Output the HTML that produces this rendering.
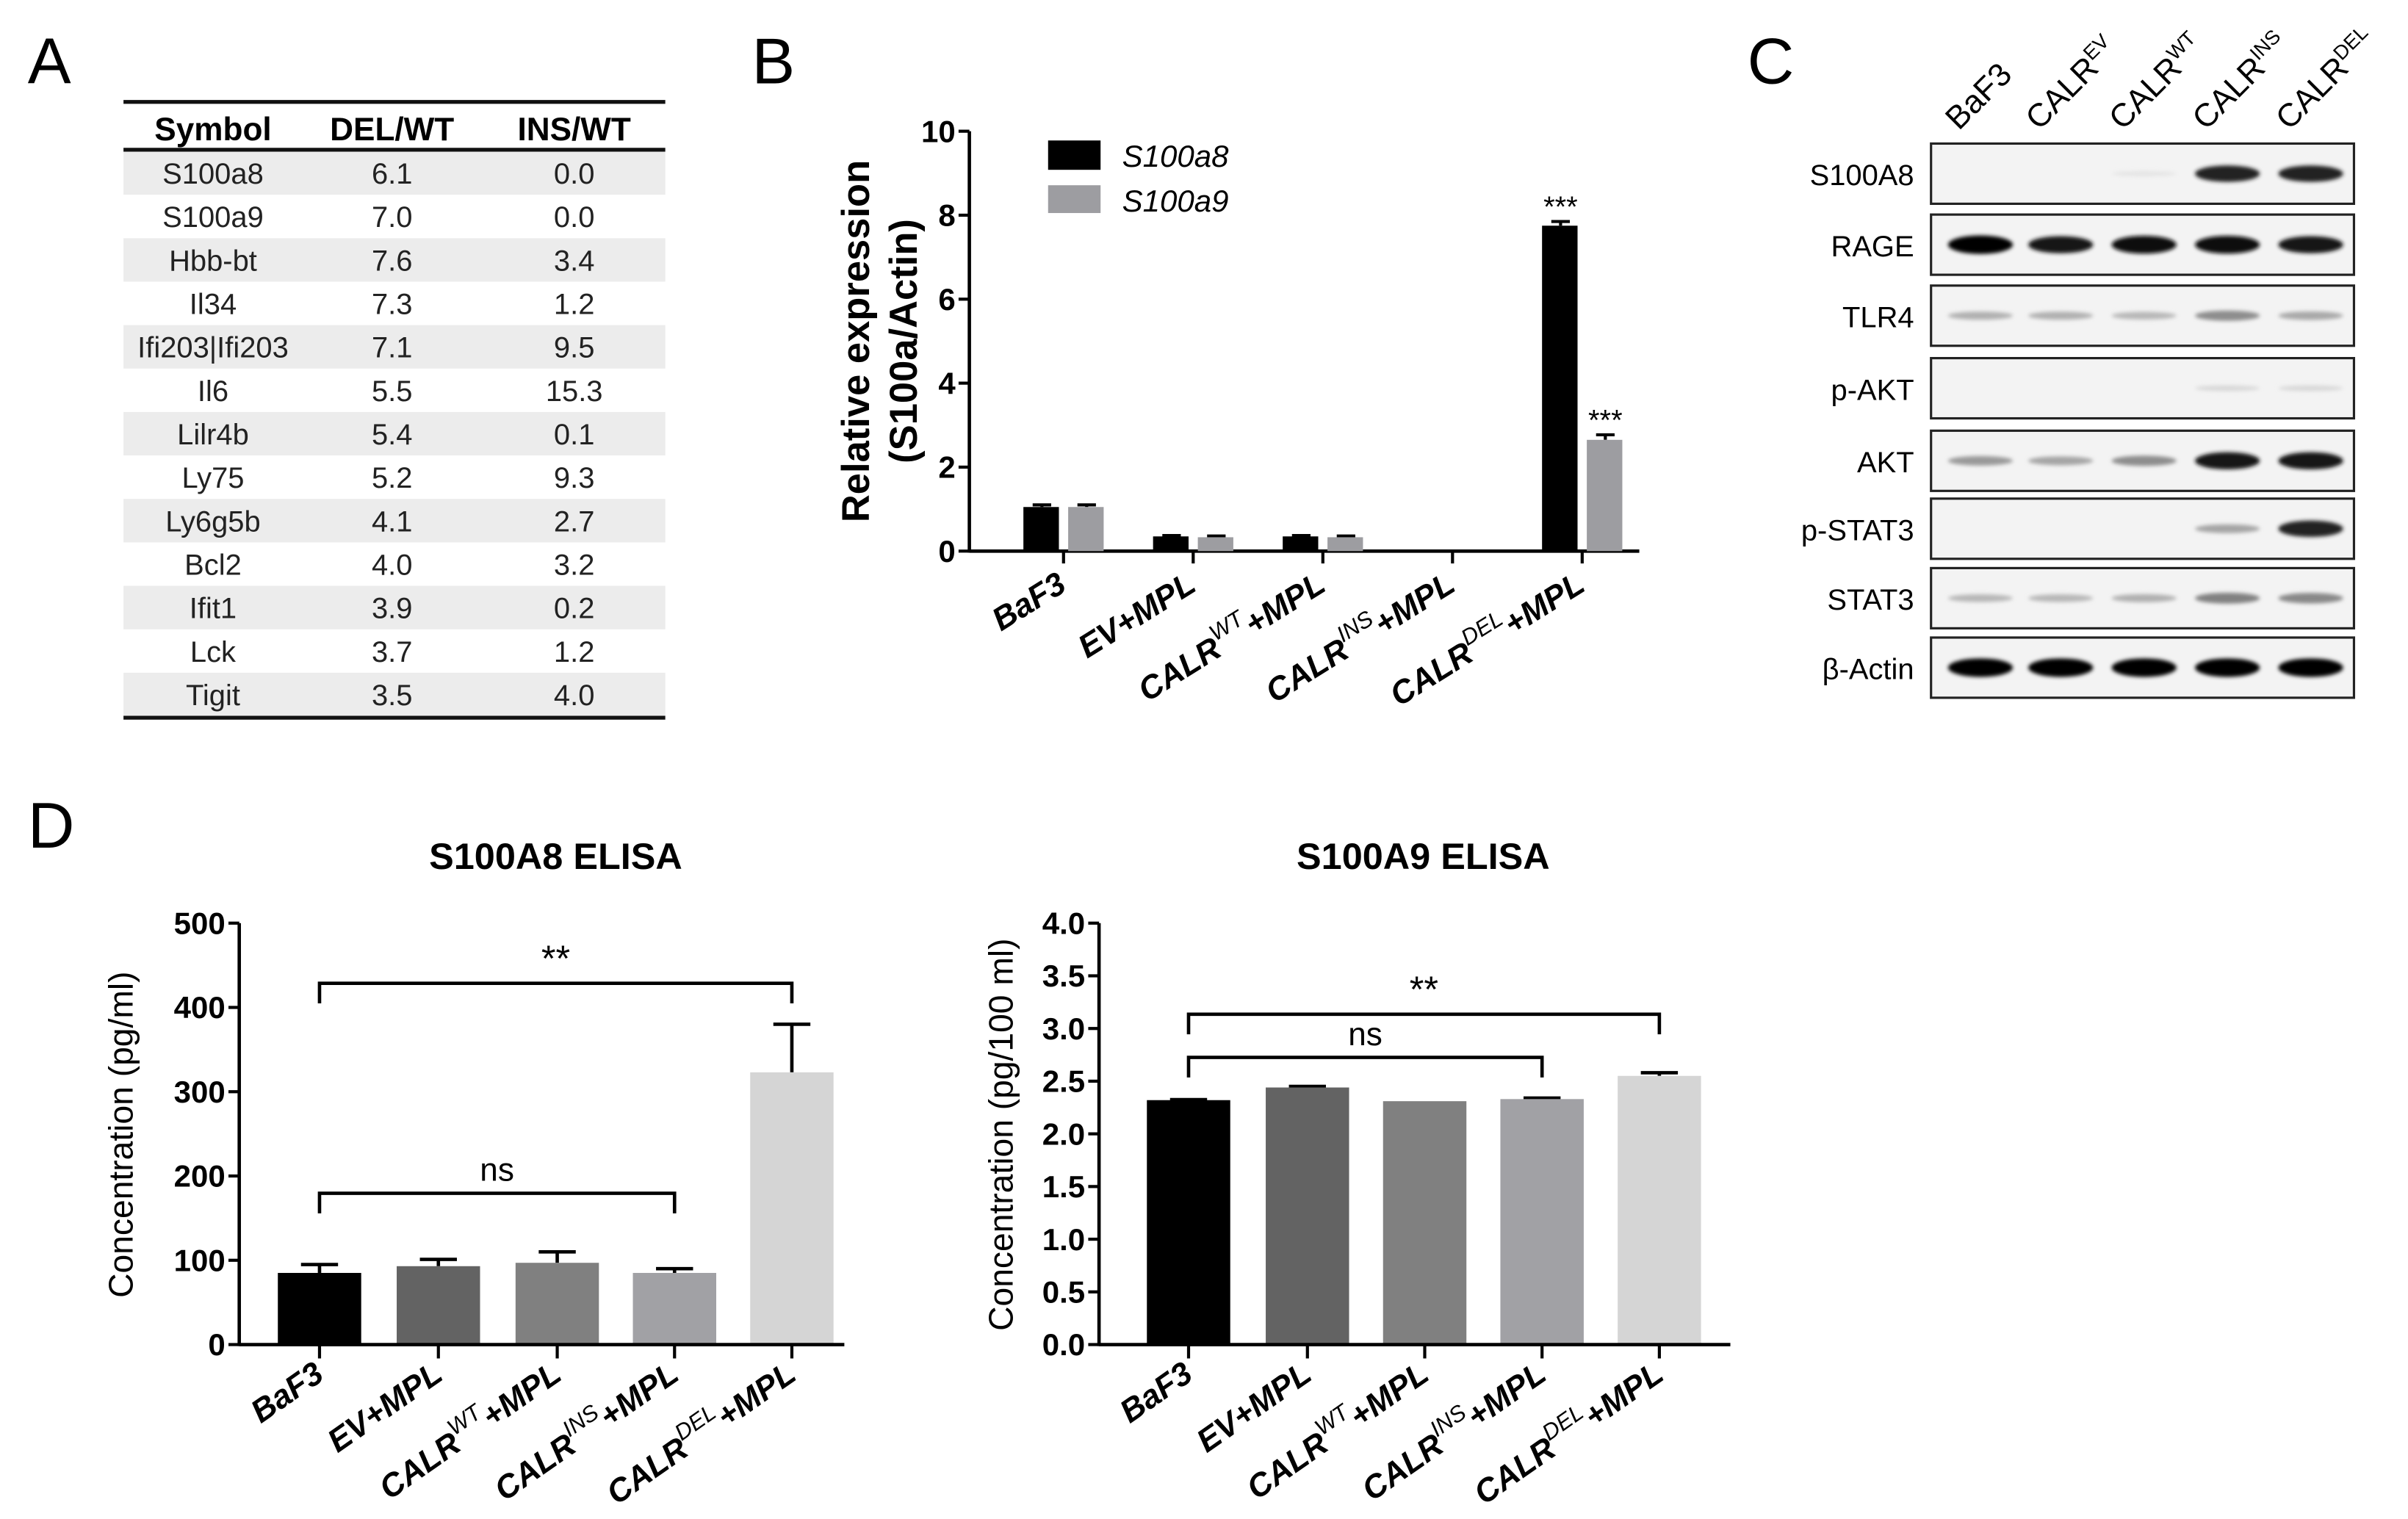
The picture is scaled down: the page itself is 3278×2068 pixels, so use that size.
<!DOCTYPE html>
<html><head><meta charset="utf-8">
<style>
html,body{margin:0;padding:0;background:#fff;}
svg{display:block;}
text{font-family:"Liberation Sans",sans-serif;}
</style></head>
<body>
<svg id="fig" width="3278" height="2068" viewBox="0 0 1560 984" preserveAspectRatio="none" xmlns="http://www.w3.org/2000/svg">
<defs><filter id="blur" x="-20%" y="-100%" width="140%" height="300%"><feGaussianBlur stdDeviation="1.3"/></filter></defs>
<g id="root"></g>
</svg>
<script>
// ===== Panel A table data =====
const tblSymbols = ["S100a8","S100a9","Hbb-bt","Il34","Ifi203|Ifi203","Il6","Lilr4b","Ly75","Ly6g5b","Bcl2","Ifit1","Lck","Tigit"];
const tblDel = ["6.1","7.0","7.6","7.3","7.1","5.5","5.4","5.2","4.1","4.0","3.9","3.7","3.5"];
const tblIns = ["0.0","0.0","3.4","1.2","9.5","15.3","0.1","9.3","2.7","3.2","0.2","1.2","4.0"];
// ===== Panel B data =====
const bCats = [["BaF3",""],["EV+MPL",""],["CALR","WT"],["CALR","INS"],["CALR","DEL"]];
const bS100a8 = [1.05,0.35,0.35,0,7.75];
const bS100a8Err = [0.05,0.02,0.02,0,0.1];
const bS100a9 = [1.05,0.33,0.33,0,2.65];
const bS100a9Err = [0.05,0.03,0.03,0,0.12];
const bTicks = [0,2,4,6,8,10];
// ===== Panel C blot =====
const cLanes = [["BaF3",""],["CALR","EV"],["CALR","WT"],["CALR","INS"],["CALR","DEL"]];
const cRows = ["S100A8","RAGE","TLR4","p-AKT","AKT","p-STAT3","STAT3","β-Actin"];
const cIntensity = [[0,0,0.03,0.85,0.85],[1,0.9,0.95,0.95,0.9],[0.25,0.25,0.22,0.4,0.28],[0,0,0,0.08,0.08],[0.35,0.3,0.4,0.9,0.9],[0,0,0,0.3,0.85],[0.22,0.22,0.25,0.45,0.42],[1,1,1,1,1]];
// ===== Panel D data =====
const dCats = [["BaF3",""],["EV+MPL",""],["CALR","WT"],["CALR","INS"],["CALR","DEL"]];
const d8Vals = [85,93,97,85,323];
const d8Err = [10,8,13,5,57];
const d8Ticks = [0,100,200,300,400,500];
const d9Vals = [2.32,2.44,2.31,2.33,2.55];
const d9Err = [0.005,0.01,0,0.01,0.03];
const d9Ticks = [0,0.5,1,1.5,2,2.5,3,3.5,4];
const dColors = ["#000000","#636363","#808080","#a1a1a5","#d5d5d5"];

const NS="http://www.w3.org/2000/svg";
const root=document.getElementById('root');
function el(tag,attrs,parent){const e=document.createElementNS(NS,tag);for(const k in attrs)e.setAttribute(k,attrs[k]);(parent||root).appendChild(e);return e;}
function txt(s,attrs,parent){const t=el('text',attrs,parent);t.textContent=s;return t;}
function lbl(tx,ty,rot,main,sup,size,style,parent){
  const t=el('text',{x:tx,y:ty,'text-anchor':'end','font-size':size,'font-weight':'bold','font-style':style,transform:`rotate(${rot} ${tx} ${ty})`},parent);
  const a=document.createElementNS(NS,'tspan');a.textContent=main;t.appendChild(a);
  if(sup){const s=document.createElementNS(NS,'tspan');s.setAttribute('dy',-10);s.setAttribute('font-size',size*0.7);s.setAttribute('font-weight','normal');s.textContent=sup;t.appendChild(s);
    const p=document.createElementNS(NS,'tspan');p.setAttribute('dy',10);p.textContent='+MPL';t.appendChild(p);}
  return t;}

// ---------- Panel letters ----------
[["A",18,54],["B",487,54],["C",1132,54],["D",18,549]].forEach(p=>{
  const t=txt(p[0],{x:p[1],y:p[2],'font-size':42});
  
  
});

// ---------- Panel A ----------
const gA=el('g',{});


const tx0=80,tx1=431,rowTop=98,rowH=28.15,cols=[138,254,372];
tblSymbols.forEach((s,i)=>{
  const y=rowTop+i*rowH;
  if(i%2===0){el('rect',{x:tx0,y:y,width:tx1-tx0,height:rowH,fill:'#ececec'},gA);}
  const row=el('g',{},gA);
  
  
  [s,tblDel[i],tblIns[i]].forEach((v,j)=>txt(v,{x:cols[j],y:y+21,'text-anchor':'middle','font-size':19,fill:'#222'},row));
});
el('line',{x1:tx0,x2:tx1,y1:66,y2:66,stroke:'#111','stroke-width':2.5},gA);
el('line',{x1:tx0,x2:tx1,y1:97,y2:97,stroke:'#111','stroke-width':2.5},gA);
el('line',{x1:tx0,x2:tx1,y1:rowTop+13*rowH+1,y2:rowTop+13*rowH+1,stroke:'#111','stroke-width':2.5},gA);
["Symbol","DEL/WT","INS/WT"].forEach((h,j)=>{const t=txt(h,{x:cols[j],y:91,'text-anchor':'middle','font-size':21,'font-weight':'bold'},gA);
  
  });

// ---------- Panel B ----------
const gB=el('g',{});


const bAx=628,bY0=357,bY1=85,bMax=10;
const by=v=>bY0-(v/bMax)*(bY0-bY1);
const bx=i=>689+84*i;
el('line',{x1:bAx,x2:bAx,y1:bY1,y2:bY0+1,stroke:'#000','stroke-width':2.2},gB);
el('line',{x1:bAx,x2:1062,y1:bY0,y2:bY0,stroke:'#000','stroke-width':2.2},gB);
bTicks.forEach(v=>{el('line',{x1:bAx-7,x2:bAx,y1:by(v),y2:by(v),stroke:'#000','stroke-width':2},gB);
  txt(String(v),{x:bAx-9,y:by(v)+7,'text-anchor':'end','font-size':20,'font-weight':'bold'},gB);});
bCats.forEach((c,i)=>{
  el('line',{x1:bx(i),x2:bx(i),y1:bY0,y2:bY0+8,stroke:'#000','stroke-width':2},gB);
  [[bS100a8,bS100a8Err,'#000',-26],[bS100a9,bS100a9Err,'#9d9da1',3]].forEach((s,k)=>{
    const v=s[0][i],e=s[1][i];if(v<=0)return;
    const x=bx(i)+s[3];
    if(e>0){el('line',{x1:x+12,x2:x+12,y1:by(v),y2:by(v+e),stroke:'#000','stroke-width':2},gB);
      el('line',{x1:x+6,x2:x+18,y1:by(v+e),y2:by(v+e),stroke:'#000','stroke-width':2},gB);}
    const r=el('rect',{x:x,y:by(v),width:23,height:bY0-by(v),fill:s[2]},gB);
    
    
  });
  const l=lbl(bx(i)+3,382,-32,c[0],c[1],21,'italic',gB);
  
  
});
txt('***',{x:bx(4)-14,y:by(bS100a8[4]+bS100a8Err[4])-3,'text-anchor':'middle','font-size':19},gB);
txt('***',{x:bx(4)+15,y:by(bS100a9[4]+bS100a9Err[4])-3,'text-anchor':'middle','font-size':19},gB);
const bt=el('text',{x:0,y:0,'text-anchor':'middle','font-size':25,'font-weight':'bold',transform:'translate(563,221) rotate(-90)'},gB);


bt.textContent='Relative expression';
txt('(S100a/Actin)',{x:0,y:0,'text-anchor':'middle','font-size':25,'font-weight':'bold',transform:'translate(594,221) rotate(-90)'},gB);
const lg=el('g',{},gB);


el('rect',{x:679,y:91,width:34,height:19,fill:'#000'},lg);
txt('S100a8',{x:727,y:108,'font-size':20,'font-style':'italic'},lg);
el('rect',{x:679,y:120,width:34,height:18,fill:'#9d9da1'},lg);
txt('S100a9',{x:727,y:137,'font-size':20,'font-style':'italic'},lg);

// ---------- Panel C ----------
const gC=el('g',{});


const laneX=[1283,1335,1389,1443,1497];
const rowY=[93,139,185,232,279,323,368,413],rowHt=39;
cLanes.forEach((l,i)=>{
  const t=el('text',{x:laneX[i]-14,y:85,'font-size':21,transform:`rotate(-45 ${laneX[i]-14} 85)`},gC);
  
  
  const a=document.createElementNS(NS,'tspan');a.textContent=l[0];t.appendChild(a);
  if(l[1]){const s=document.createElementNS(NS,'tspan');s.setAttribute('dy',-8);s.setAttribute('font-size',13);s.textContent=l[1];t.appendChild(s);}
});
cRows.forEach((r,j)=>{
  const y=rowY[j];
  el('rect',{x:1251,y:y,width:274,height:rowHt,fill:'#f3f3f3',stroke:'#222','stroke-width':1.5},gC);
  const t=txt(r,{x:1240,y:y+27,'text-anchor':'end','font-size':19},gC);
  
  
  cIntensity[j].forEach((v,i)=>{
    if(v<=0)return;
    const g=Math.round(235*(1-v));
    const b=el('ellipse',{cx:laneX[i],cy:y+rowHt*0.5,rx:21,ry:1.5+4.5*v,fill:`rgb(${g},${g},${g})`,filter:'url(#blur)'},gC);
    
    
  });
});

// ---------- Panel D ----------
function elisa(name,title,titleX,ax,axEnd,yMax,ticks,fmt,vals,errs,centers,ytitle,ytX,brackets){
  const g=el('g',{});
  
  
  const y0=871,y1=598;
  const yy=v=>y0-(v/yMax)*(y0-y1);
  const t=txt(title,{x:titleX,y:563,'text-anchor':'middle','font-size':24,'font-weight':'bold'},g);
  
  
  vals.forEach((v,i)=>{
    const cx=centers[i];
    if(errs[i]>0){el('line',{x1:cx,x2:cx,y1:yy(v),y2:yy(v+errs[i]),stroke:'#000','stroke-width':2.2},g);
      el('line',{x1:cx-12,x2:cx+12,y1:yy(v+errs[i]),y2:yy(v+errs[i]),stroke:'#000','stroke-width':2.2},g);}
    const r=el('rect',{x:cx-27,y:yy(v),width:54,height:y0-yy(v),fill:dColors[i]},g);
    
    
    el('line',{x1:cx,x2:cx,y1:y0,y2:y0+9,stroke:'#000','stroke-width':2},g);
    const l=lbl(cx+4,893,-35,dCats[i][0],dCats[i][1],21,'italic',g);
    
    
  });
  el('line',{x1:ax,x2:ax,y1:y1,y2:y0+1,stroke:'#000','stroke-width':2.2},g);
  el('line',{x1:ax,x2:axEnd,y1:y0,y2:y0,stroke:'#000','stroke-width':2.2},g);
  ticks.forEach(v=>{el('line',{x1:ax-7,x2:ax,y1:yy(v),y2:yy(v),stroke:'#000','stroke-width':2},g);
    txt(fmt(v),{x:ax-9,y:yy(v)+7,'text-anchor':'end','font-size':20,'font-weight':'bold'},g);});
  const yt=el('text',{x:0,y:0,'text-anchor':'middle','font-size':22,transform:`translate(${ytX},735) rotate(-90)`},g);
  
  
  yt.textContent=ytitle;
  brackets.forEach(b=>{
    const x1=centers[b[0]],x2=centers[b[1]],by_=b[2];
    el('polyline',{points:`${x1},${by_+13} ${x1},${by_} ${x2},${by_} ${x2},${by_+13}`,fill:'none',stroke:'#000','stroke-width':2.2},g);
    txt(b[3],{x:(x1+x2)/2,y:by_-8,'text-anchor':'middle','font-size':b[3]==='ns'?21:24},g);
  });
}
elisa('s100a8-elisa','S100A8 ELISA',360,155,547,500,d8Ticks,v=>String(v),d8Vals,d8Err,[207,284,361,437,513],'Concentration (pg/ml)',86,[[0,4,637,'**'],[0,3,773,'ns']]);
elisa('s100a9-elisa','S100A9 ELISA',922,712,1121,4,d9Ticks,v=>v.toFixed(1),d9Vals,d9Err,[770,847,923,999,1075],'Concentration (pg/100 ml)',656,[[0,4,657,'**'],[0,3,685,'ns']]);
</script>
</body></html>
